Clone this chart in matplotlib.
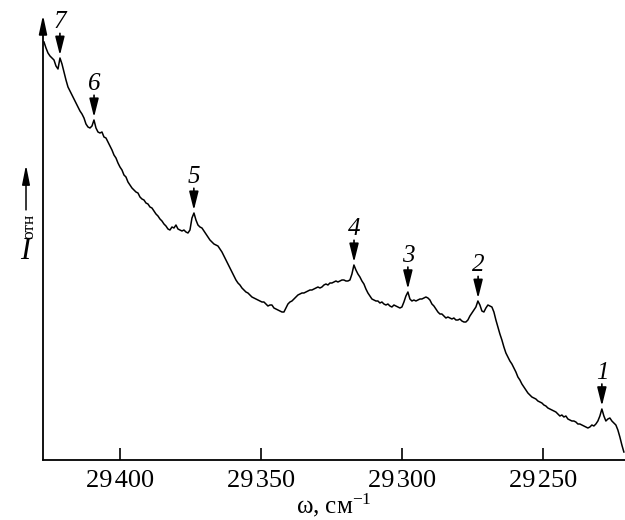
import numpy as np
import matplotlib.pyplot as plt

plt.rcParams['font.family'] = ['Liberation Serif', 'DejaVu Serif']
plt.rcParams['mathtext.fontset'] = 'custom'
plt.rcParams['mathtext.rm'] = 'Liberation Serif'
plt.rcParams['mathtext.it'] = 'Liberation Serif:italic'

# spectrum, intensity in arbitrary units, uniform sampling grid
omega_first = 29426.95
omega_last = 29221.3
intensity = [
    418, 412, 407, 404, 402, 400, 394, 391, 402, 396,
    388, 380, 373, 369, 365, 361, 357, 353, 349, 346,
    342, 336, 333, 332, 334, 340, 332, 328, 327, 328,
    323, 322, 318, 314, 310, 305, 302, 297, 293, 290,
    285, 283, 278, 275, 272, 270, 268, 267, 263, 261,
    260, 257, 256, 253, 252, 249, 246, 244, 241, 239,
    236, 234, 231, 230, 233, 232, 235, 231, 230, 229,
    230, 228, 227, 230, 242, 247, 240, 235, 233, 232,
    229, 226, 223, 220, 218, 216, 215, 214, 211, 208,
    204, 200, 196, 192, 188, 184, 180, 177, 175, 172,
    170, 168, 167, 165, 163, 162, 161, 160, 159, 158,
    158, 156, 154, 155, 155, 152, 151, 150, 149, 148,
    148, 152, 156, 158, 159, 161, 163, 165, 166, 167,
    167, 168, 169, 170, 170, 171, 172, 173, 172, 173,
    175, 176, 175, 177, 177, 178, 179, 178, 179, 180,
    180, 179, 179, 180, 186, 195, 190, 186, 183, 179,
    176, 171, 167, 164, 161, 160, 159, 159, 157, 158,
    156, 155, 156, 154, 153, 155, 154, 153, 152, 153,
    158, 164, 168, 161, 159, 160, 159, 160, 161, 161,
    162, 163, 162, 160, 156, 154, 151, 148, 146, 146,
    144, 142, 143, 142, 141, 142, 140, 140, 141, 139,
    138, 138, 140, 144, 147, 150, 153, 159, 155, 149,
    148, 152, 155, 154, 153, 148, 140, 133, 126, 120,
    113, 107, 103, 99, 96, 92, 88, 83, 80, 76,
    73, 70, 67, 65, 63, 62, 61, 59, 58, 57,
    55, 54, 52, 51, 50, 49, 48, 46, 44, 45,
    43, 44, 41, 40, 39, 39, 38, 36, 36, 35,
    34, 33, 32, 33, 35, 34, 36, 39, 44, 51,
    44, 39, 41, 42, 39, 37, 35, 30, 23, 15,
    8,
]
omega = np.linspace(omega_first, omega_last, len(intensity))

peak_labels = ['1', '2', '3', '4', '5', '6', '7']
peak_omega = [29229.1, 29273.0, 29297.9, 29317.0, 29373.8, 29409.2, 29421.3]

tick_values = [29400, 29350, 29300, 29250]
tick_labels = ['29\u200a400', '29\u200a350', '29\u200a300', '29\u200a250']

fig = plt.figure(figsize=(6.25, 5.2), dpi=100)
ax = fig.add_axes([43 / 625, 60 / 520, 582 / 625, 445 / 520])

ax.plot(omega, intensity, color='black', lw=1.1)

# peak markers
for lab, w in zip(peak_labels, peak_omega):
    i_peak = np.interp(w, omega[::-1], np.array(intensity)[::-1])
    ax.annotate('', xy=(w, i_peak + 3), xytext=(w, i_peak + 25),
                arrowprops=dict(arrowstyle='-|>,head_length=0.8,head_width=0.2',
                                color='black', lw=1.2, mutation_scale=14,
                                shrinkA=0, shrinkB=0))
    ax.text(w, i_peak + 30, lab, ha='center', va='baseline',
            fontsize=18, style='italic')

ax.set_xlim(29427.3, 29220.9)
ax.set_ylim(0, 445)

for s in ['top', 'right', 'left']:
    ax.spines[s].set_visible(False)
ax.spines['bottom'].set_linewidth(1.3)
ax.set_yticks([])

# y axis drawn as an arrow
ax.annotate('', xy=(0, 1), xytext=(0, 0), xycoords='axes fraction',
            annotation_clip=False,
            arrowprops=dict(arrowstyle='-|>,head_length=0.7,head_width=0.15',
                            color='black', lw=1.3, mutation_scale=16,
                            shrinkA=0, shrinkB=0))

ax.set_xticks(tick_values)
ax.set_xticklabels(tick_labels)
ax.tick_params(axis='x', direction='in', length=9, width=1.2, pad=7, labelsize=19)

ax.set_xlabel('ω, см$^{-1}$', fontsize=18, labelpad=0)

# y label: upright italic I, rotated subscript, arrow
ax.text(-0.0300, 0.468, 'I', transform=ax.transAxes, ha='center', va='center',
        fontsize=22, style='italic')
ax.text(-0.023, 0.524, 'отн', rotation=90, transform=ax.transAxes,
        ha='center', va='center', fontsize=12.5)
ax.annotate('', xy=(-0.0292, 0.663), xytext=(-0.0292, 0.562), xycoords='axes fraction',
            annotation_clip=False,
            arrowprops=dict(arrowstyle='-|>,head_length=0.9,head_width=0.18',
                            color='black', lw=1.1, mutation_scale=13,
                            shrinkA=0, shrinkB=0))

fig.savefig('out.png', dpi=100)
